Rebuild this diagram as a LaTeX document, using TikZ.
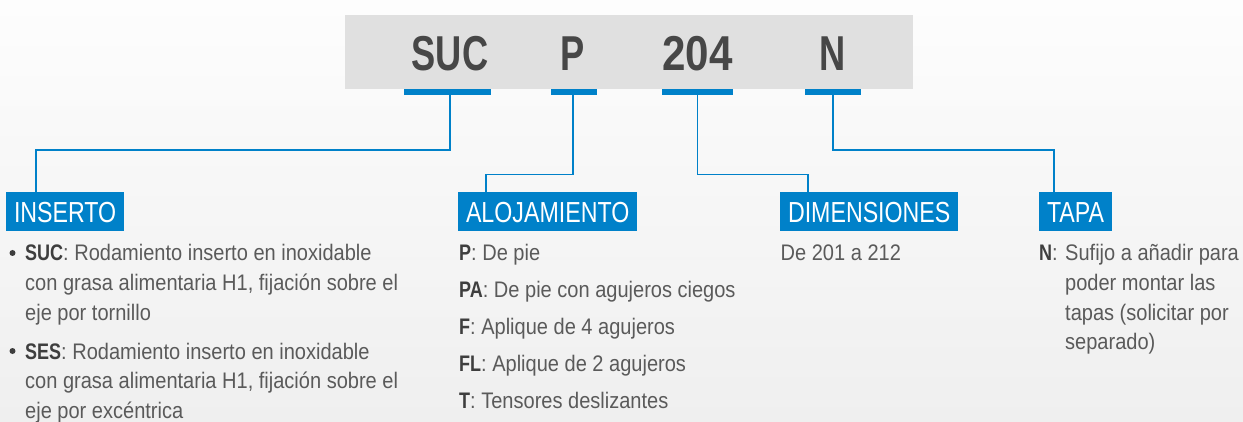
\documentclass[tikz,border=0pt]{standalone}
\usepackage{fontspec}
\setmainfont{Liberation Sans}[FakeStretch=0.89]
\newfontfamily\titlefont{Liberation Sans}[FakeStretch=0.74]
\newfontfamily\digitfont{Liberation Sans}[FakeStretch=0.86]
\newfontfamily\labelfont{Liberation Sans}[FakeStretch=0.80]
\newfontfamily\boldbody{Liberation Sans}[FakeStretch=0.80]
\definecolor{blueA}{HTML}{0081C9}
\definecolor{bodygray}{HTML}{5A5A5A}
\definecolor{darkgray}{HTML}{3E3E3E}
\definecolor{titlegray}{HTML}{474747}
\definecolor{boxgray}{HTML}{E0E0E0}
\definecolor{bgtop}{HTML}{FDFDFD}
\definecolor{bgbot}{HTML}{EFEFEF}
\newcommand{\lb}[1]{{\boldbody\bfseries\color{darkgray}#1}}
\begin{document}
\begin{tikzpicture}[x=1pt,y=1pt,
  titletext/.style={font=\titlefont\bfseries\fontsize{49}{49}\selectfont, text=titlegray, anchor=base, inner sep=0},
  bar/.style={fill=blueA, minimum height=6pt, inner sep=0, outer sep=0},
  conn/.style={draw=blueA, line width=1.8pt},
  labelbox/.style={fill=blueA, text=white, font=\labelfont\fontsize{29}{29}\selectfont, anchor=base west,
     text height=30.7pt, text depth=8.3pt, inner ysep=0, inner xsep=8pt, outer sep=0},
  body/.style={font=\fontsize{22.5}{22.5}\selectfont, text=bodygray, anchor=base west, inner sep=0},
  bulletdot/.style={circle, fill=darkgray, minimum size=6pt, inner sep=0}
]
\useasboundingbox (0,0) rectangle (1243,-422);
\fill[top color=bgtop, bottom color=bgbot] (0,0) rectangle (1243,-422);

% code box
\node[fill=boxgray, minimum width=568pt, minimum height=74pt, inner sep=0] (code) at (629,-52) {};
\node[titletext] (tSUC) at (450,-70.7) {SUC};
\node[titletext] (tP) at (573,-70.7) {P};
\node[titletext, font=\digitfont\bfseries\fontsize{49}{49}\selectfont] (t204) at (697.5,-70.7) {204};
\node[titletext] (tN) at (833,-70.7) {N};

% bars
\node[bar, minimum width=87pt] (b1) at (447.5,-92) {};
\node[bar, minimum width=46pt] (b2) at (574,-92) {};
\node[bar, minimum width=71.5pt] (b3) at (697.7,-92) {};
\node[bar, minimum width=56pt] (b4) at (833,-92) {};

% labels
\node[labelbox] (l1) at (6,-222.7) {INSERTO};
\node[labelbox] (l2) at (458,-222.7) {ALOJAMIENTO};
\node[labelbox] (l3) at (780,-222.7) {DIMENSIONES};
\node[labelbox] (l4) at (1039,-222.7) {TAPA};

% connectors
\coordinate (e1) at ([xshift=29.6pt]l1.north west);
\coordinate (e2) at ([xshift=27.8pt]l2.north west);
\coordinate (e3) at ([xshift=27.7pt]l3.north west);
\coordinate (e4) at ([xshift=15pt]l4.north west);
\draw[conn] (tSUC.center |- b1.south) -- (tSUC.center |- 0,-150) -| (e1);
\draw[conn] (tP.center |- b2.south) -- (tP.center |- 0,-174.5) -| (e2);
\draw[conn] (t204.center |- b3.south) -- (t204.center |- 0,-174.5) -| (e3);
\draw[conn] (tN.center |- b4.south) -- (tN.center |- 0,-150) -| (e4);

% INSERTO list
\node[bulletdot] (bul1) at (12.5,-253) {};
\node[body] (i1a) at (25,-261) {\lb{SUC}: Rodamiento inserto en inoxidable};
\node[body] (i1b) at (25,-290.5) {con grasa alimentaria H1, fijación sobre el};
\node[body] (i1c) at (25,-320) {eje por tornillo};
\node[bulletdot] (bul2) at (12.5,-351) {};
\node[body] (i2a) at (25,-359) {\lb{SES}: Rodamiento inserto en inoxidable};
\node[body] (i2b) at (25,-388.5) {con grasa alimentaria H1, fijación sobre el};
\node[body] (i2c) at (25,-418) {eje por excéntrica};

% ALOJAMIENTO list
\node[body] (a1) at (459,-260.5) {\lb{P}: De pie};
\node[body] (a2) at (459,-297.5) {\lb{PA}: De pie con agujeros ciegos};
\node[body] (a3) at (459,-334.5) {\lb{F}: Aplique de 4 agujeros};
\node[body] (a4) at (459,-371.2) {\lb{FL}: Aplique de 2 agujeros};
\node[body] (a5) at (459,-408) {\lb{T}: Tensores deslizantes};

% DIMENSIONES
\node[body] (d1) at (780.5,-261) {De 201 a 212};

% TAPA
\node[body] (n0) at (1039,-261) {\lb{N}:};
\node[body] (n1) at (1065,-261) {Sufijo a añadir para};
\node[body] (n2) at (1065,-290.5) {poder montar las};
\node[body] (n3) at (1065,-320) {tapas (solicitar por};
\node[body] (n4) at (1065,-349.5) {separado)};
\end{tikzpicture}
\end{document}
